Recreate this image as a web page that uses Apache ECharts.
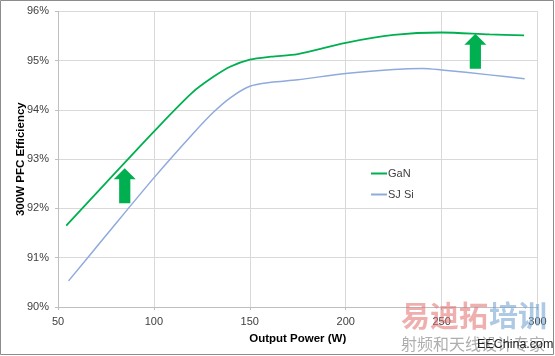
<!DOCTYPE html>
<html>
<head>
<meta charset="utf-8">
<script src="https://cdn.jsdelivr.net/npm/echarts@6/dist/echarts.min.js"></script>
<style>
html,body{margin:0;padding:0;background:#fff;}
#c{width:555px;height:356px;}
</style>
</head>
<body>
<div id="c"></div>
<script>
// Output Power (W) vs efficiency (%)
const ganPower = [54.3, 75, 100, 120, 131, 140, 150, 161, 175, 200, 225, 250, 275, 293];
const ganEff   = [91.65, 92.52, 93.56, 94.35, 94.67, 94.88, 95.02, 95.08, 95.13, 95.36, 95.52, 95.57, 95.53, 95.51];
const siPower  = [55.5, 75, 100, 120, 131, 140, 150, 161, 175, 200, 225, 240, 250, 275, 293.3];
const siEff    = [90.53, 91.45, 92.62, 93.5, 93.95, 94.25, 94.48, 94.56, 94.61, 94.74, 94.82, 94.84, 94.81, 94.71, 94.63];
const seriesNames = ['GaN', 'SJ Si'];
// improvement arrows (data position: power, efficiency)
const arrowPos = [[84.8, 92.46], [267.6, 95.19]];

const font = 'Liberation Sans, Arial, sans-serif';
const pair = (xs, ys) => xs.map((x, i) => [x, ys[i]]);
const arrowPath = 'path://M11,0 L22,11 L16.6,11 L16.6,35 L5.4,35 L5.4,11 L0,11 Z';

const chart = echarts.init(document.getElementById('c'), null, {renderer: 'canvas'});
chart.setOption({
  animation: false,
  backgroundColor: '#ffffff',
  textStyle: {fontFamily: font},
  grid: {left: 58, right: 17.5, top: 11.3, bottom: 49, containLabel: false, outerBoundsMode: 'none'},
  xAxis: {
    type: 'value', min: 50, max: 300, interval: 50,
    name: 'Output Power (W)', nameLocation: 'middle', nameGap: 26, nameMoveOverlap: false,
    nameTextStyle: {fontFamily: font, fontSize: 11.5, fontWeight: 'bold', color: '#000'},
    axisLine: {show: true, lineStyle: {color: '#bfbfbf', width: 1}},
    axisTick: {show: true, length: 3, lineStyle: {color: '#bfbfbf'}},
    axisLabel: {fontFamily: font, fontSize: 11, color: '#404040', margin: 9},
    splitLine: {show: true, lineStyle: {color: '#d9d9d9', width: 1}}
  },
  yAxis: {
    type: 'value', min: 90, max: 96, interval: 1,
    name: '300W PFC Efficiency', nameLocation: 'middle', nameGap: 31, nameRotate: 90, nameMoveOverlap: false,
    nameTextStyle: {fontFamily: font, fontSize: 11.5, fontWeight: 'bold', color: '#000'},
    axisLine: {show: true, lineStyle: {color: '#bfbfbf', width: 1}},
    axisTick: {show: true, length: 3, lineStyle: {color: '#bfbfbf'}},
    axisLabel: {fontFamily: font, fontSize: 11, color: '#404040', margin: 9, formatter: '{value}%'},
    splitLine: {show: true, lineStyle: {color: '#d9d9d9', width: 1}}
  },
  legend: {
    orient: 'vertical', left: 371, top: 168, padding: 0, itemWidth: 16, itemHeight: 2, itemGap: 10,
    icon: 'rect',
    textStyle: {fontFamily: font, fontSize: 11, color: '#404040', padding: [0, 0, 0, -4]},
    data: seriesNames
  },
  series: [
    {
      name: seriesNames[0], type: 'line', smooth: 0.3, symbol: 'none',
      data: pair(ganPower, ganEff),
      itemStyle: {color: '#00b050'},
      lineStyle: {color: '#00b050', width: 1.8},
      markPoint: {
        silent: true,
        symbol: arrowPath, symbolSize: [22, 35],
        itemStyle: {color: '#00b050'},
        label: {show: false},
        data: arrowPos.map(p => ({coord: p}))
      },
      z: 3
    },
    {
      name: seriesNames[1], type: 'line', smooth: 0.3, symbol: 'none',
      data: pair(siPower, siEff),
      itemStyle: {color: '#8faadc'},
      lineStyle: {color: '#8faadc', width: 1.5},
      z: 2
    }
  ],
  graphic: [
    {type: 'rect', shape: {x: 0.5, y: 0.5, width: 553, height: 354}, style: {fill: 'none', stroke: '#8c8c8c', lineWidth: 1}, silent: true},
    {type: 'text', left: 401, top: 301, silent: true, z: 10,
      style: {text: '易迪拓', fontSize: 29, fontWeight: 'bold', fontFamily: 'Noto Sans CJK SC', fill: 'rgba(225,110,110,0.55)'}},
    {type: 'text', left: 489, top: 301, silent: true, z: 10,
      style: {text: '培训', fontSize: 29, fontWeight: 'bold', fontFamily: 'Noto Sans CJK SC', fill: 'rgba(120,165,210,0.6)'}},
    {type: 'text', left: 401, top: 336, silent: true, z: 10,
      style: {text: '射频和天线设计专家', fontSize: 16, fontFamily: 'Noto Sans CJK SC', fill: 'rgba(120,120,120,0.6)'}},
    {type: 'text', left: 477, top: 338, silent: true, z: 11,
      style: {text: 'EEChina.com', fontSize: 12.5, fontFamily: font, fill: '#222'}}
  ]
});
</script>
</body>
</html>
